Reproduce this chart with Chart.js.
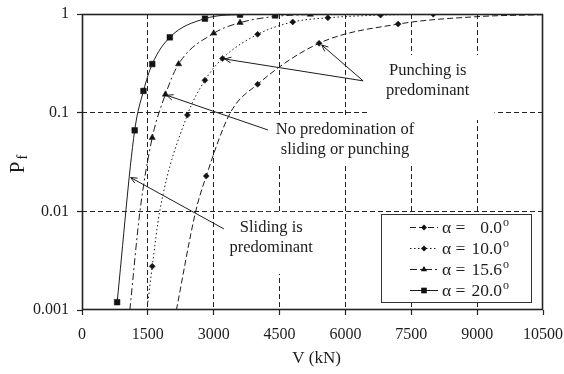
<!DOCTYPE html>
<html>
<head>
<meta charset="utf-8">
<script src="https://cdn.jsdelivr.net/npm/chart.js@4/dist/chart.umd.min.js"></script>
<style>
html,body{margin:0;padding:0;background:#fff;}
#wrap{width:564px;height:374px;position:relative;}
</style>
</head>
<body>
<div id="wrap"><canvas id="c" width="564" height="374"></canvas></div>
<script>
// ---------- data ----------
const xTicks = [0, 1500, 3000, 4500, 6000, 7500, 9000, 10500];
const yTicks = [0.001, 0.01, 0.1, 1];
const yTickLabels = ['0.001', '0.01', '0.1', '1'];

const alphaLabels = ['0.0', '10.0', '15.6', '20.0'];

// marker points (V in kN, Pf)
const v00 = [2830, 4000, 5400, 7200];
const p00 = [0.0228, 0.194, 0.505, 0.79];
const v100 = [1600, 2400, 2800, 3200, 4000, 4800, 5600, 6800, 8000];
const p100 = [0.00277, 0.0947, 0.213, 0.355, 0.622, 0.83, 0.915, 0.975, 0.995];
const v156 = [1600, 1900, 2200, 3000, 3600, 4400, 5200];
const p156 = [0.0558, 0.153, 0.311, 0.637, 0.817, 0.945, 0.99];
const v200 = [800, 1200, 1400, 1600, 2000, 2800, 3600, 4400];
const p200 = [0.0012, 0.0662, 0.166, 0.311, 0.58, 0.897, 0.985, 0.995];

// further points read along each curve where no marker is drawn
const v00Curve = [2150, 2590, 3380, 9000, 10500];
const p00Curve = [0.001, 0.01, 0.1, 0.94, 0.985];
const v100Curve = [1480, 1770];
const p100Curve = [0.001, 0.01];
const v156Curve = [1090, 1320];
const p156Curve = [0.001, 0.01];
const v200Curve = [];
const p200Curve = [];

// ---------- styles ----------
const FONT = "'Liberation Serif','Times New Roman',serif";
const INK = '#1c1c1c';
const seriesStyles = [
  {dash: [6, 3], point: 'rectRot', r: 3},
  {dash: [1.5, 2.5], point: 'rectRot', r: 3},
  {dash: [7, 3, 2, 3], point: 'triangle', r: 3.6},
  {dash: [], point: 'rect', r: 4}
];

function pts(v, p) { return v.map((x, i) => ({x: x, y: p[i]})); }
function curvePts(v, p, cv, cp) {
  return pts(v.concat(cv), p.concat(cp)).sort((a, b) => a.x - b.x);
}
const series = [
  {marks: pts(v00, p00), curve: curvePts(v00, p00, v00Curve, p00Curve)},
  {marks: pts(v100, p100), curve: curvePts(v100, p100, v100Curve, p100Curve)},
  {marks: pts(v156, p156), curve: curvePts(v156, p156, v156Curve, p156Curve)},
  {marks: pts(v200, p200), curve: curvePts(v200, p200, v200Curve, p200Curve)}
];

const datasets = [];
series.forEach((s, i) => {
  const st = seriesStyles[i];
  datasets.push({
    label: 'curve ' + alphaLabels[i],
    data: s.curve,
    showLine: true,
    borderColor: INK,
    borderWidth: 1,
    borderDash: st.dash,
    pointRadius: 0,
    cubicInterpolationMode: 'monotone',
    fill: false
  });
  datasets.push({
    label: 'α = ' + alphaLabels[i] + '°',
    data: s.marks,
    showLine: false,
    pointStyle: st.point,
    pointRadius: st.r,
    pointBackgroundColor: '#111',
    pointBorderColor: '#111',
    pointBorderWidth: 0.5
  });
});

// ---------- annotations (positions in data units) ----------
const notes = [
  {lines: ['Punching is', 'predominant'], at: [7875, 0.2646], pad: [18, 8, 25, 21]},
  {lines: ['No predomination of', 'sliding or punching'], at: [5990, 0.0668], pad: [8, 5, 8, 6]},
  {lines: ['Sliding is', 'predominant'], at: [4310, 0.00679], pad: [8, 8, 8, 18]}
];
const arrows = [
  {from: [6403, 0.21], to: [3250, 0.35]},
  {from: [6403, 0.21], to: [5460, 0.485]},
  {from: [4236, 0.0668], to: [1930, 0.15]},
  {from: [3232, 0.00664], to: [1108, 0.022]}
];

function drawMarker(ctx, style, x, y, r) {
  ctx.beginPath();
  if (style === 'rect') {
    const s = Math.SQRT1_2 * r;
    ctx.rect(x - s, y - s, 2 * s, 2 * s);
  } else if (style === 'rectRot') {
    ctx.moveTo(x, y - r); ctx.lineTo(x + r, y); ctx.lineTo(x, y + r); ctx.lineTo(x - r, y);
    ctx.closePath();
  } else if (style === 'triangle') {
    for (let k = 0; k < 3; k++) {
      const a = k * 2 * Math.PI / 3;
      const px = x + Math.sin(a) * r, py = y - Math.cos(a) * r;
      if (k === 0) ctx.moveTo(px, py); else ctx.lineTo(px, py);
    }
    ctx.closePath();
  }
  ctx.fillStyle = '#111';
  ctx.fill();
}

const decorPlugin = {
  id: 'decor',
  beforeDatasetsDraw(chart) {
    const ctx = chart.ctx, xs = chart.scales.x, ys = chart.scales.y;
    ctx.save();
    ctx.font = '16.5px ' + FONT;
    notes.forEach(n => {
      const cx = xs.getPixelForValue(n.at[0]);
      const cy = ys.getPixelForValue(n.at[1]);
      const w = Math.max(...n.lines.map(t => ctx.measureText(t).width));
      const h = (n.lines.length - 1) * 20;
      ctx.fillStyle = '#fff';
      ctx.fillRect(cx - w / 2 - n.pad[0], cy - 8 - n.pad[1],
                   w + n.pad[0] + n.pad[2], h + 16 + n.pad[1] + n.pad[3]);
    });
    ctx.restore();
  },
  afterDatasetsDraw(chart) {
    const ctx = chart.ctx, xs = chart.scales.x, ys = chart.scales.y;
    const a = chart.chartArea;
    ctx.save();
    // frame
    ctx.strokeStyle = '#222';
    ctx.lineWidth = 1.6;
    ctx.setLineDash([]);
    ctx.strokeRect(Math.round(a.left) + 0.5, Math.round(a.top) + 0.5,
                   Math.round(a.right - a.left) - 1, Math.round(a.bottom - a.top) - 1);
    // note texts
    ctx.fillStyle = INK;
    ctx.font = '16.5px ' + FONT;
    ctx.textAlign = 'center';
    ctx.textBaseline = 'middle';
    notes.forEach(n => {
      const cx = xs.getPixelForValue(n.at[0]);
      const cy = ys.getPixelForValue(n.at[1]);
      n.lines.forEach((t, k) => ctx.fillText(t, cx, cy + k * 20));
    });
    // arrows
    ctx.strokeStyle = INK;
    ctx.lineWidth = 1;
    arrows.forEach(ar => {
      const x1 = xs.getPixelForValue(ar.from[0]), y1 = ys.getPixelForValue(ar.from[1]);
      const x2 = xs.getPixelForValue(ar.to[0]), y2 = ys.getPixelForValue(ar.to[1]);
      const ang = Math.atan2(y2 - y1, x2 - x1);
      ctx.beginPath();
      ctx.moveTo(x1, y1); ctx.lineTo(x2, y2);
      const L = 7, sp = 0.42;
      ctx.moveTo(x2 - L * Math.cos(ang - sp), y2 - L * Math.sin(ang - sp));
      ctx.lineTo(x2, y2);
      ctx.lineTo(x2 - L * Math.cos(ang + sp), y2 - L * Math.sin(ang + sp));
      ctx.stroke();
    });
    // legend box
    const L0 = a.right - 162, T0 = a.bottom - 96, W = 150, H = 88;
    ctx.fillStyle = '#fff';
    ctx.fillRect(L0, T0, W, H);
    ctx.strokeStyle = '#333';
    ctx.lineWidth = 1;
    ctx.strokeRect(L0 + 0.5, T0 + 0.5, W, H);
    alphaLabels.forEach((lab, i) => {
      const st = seriesStyles[i];
      const y = T0 + 13 + i * 21;
      ctx.strokeStyle = INK;
      ctx.lineWidth = 1;
      ctx.setLineDash(st.dash);
      ctx.beginPath();
      ctx.moveTo(L0 + 29, y + 0.5); ctx.lineTo(L0 + 57, y + 0.5);
      ctx.stroke();
      ctx.setLineDash([]);
      drawMarker(ctx, st.point, L0 + 43, y + 0.5, st.r);
      ctx.fillStyle = INK;
      ctx.textBaseline = 'middle';
      ctx.font = '17.5px ' + FONT;
      ctx.textAlign = 'left';
      ctx.fillText('α =', L0 + 61, y + 1);
      ctx.textAlign = 'right';
      ctx.fillText(lab, L0 + 121, y + 1);
      ctx.textAlign = 'left';
      ctx.font = '12px ' + FONT;
      ctx.fillText('o', L0 + 122, y - 4);
    });
    ctx.restore();
  },
  afterDraw(chart) {
    const ctx = chart.ctx, a = chart.chartArea;
    ctx.save();
    ctx.fillStyle = INK;
    // x title
    ctx.font = '17px ' + FONT;
    ctx.textAlign = 'center';
    ctx.textBaseline = 'middle';
    ctx.fillText('V (kN)', (a.left + a.right) / 2 + 4, 359);
    // y title P with subscript f
    ctx.translate(23.5, (a.top + a.bottom) / 2 + 2);
    ctx.rotate(-Math.PI / 2);
    ctx.textAlign = 'left';
    ctx.textBaseline = 'alphabetic';
    ctx.font = '21px ' + FONT;
    const wP = ctx.measureText('P').width;
    ctx.font = '14px ' + FONT;
    const wf = ctx.measureText('f').width;
    const start = -(wP + wf + 2) / 2;
    ctx.font = '21px ' + FONT;
    ctx.fillText('P', start, 0);
    ctx.font = '14px ' + FONT;
    ctx.fillText('f', start + wP + 2, 3);
    ctx.restore();
  }
};

const edgeX = v => v === xTicks[0] || v === xTicks[xTicks.length - 1];
const edgeY = v => Math.abs(v - yTicks[0]) < 1e-9 || Math.abs(v - yTicks[yTicks.length - 1]) < 1e-9;

new Chart(document.getElementById('c'), {
  type: 'scatter',
  data: {datasets: datasets},
  options: {
    responsive: false,
    animation: false,
    layout: {padding: {left: 0, right: 21, top: 14, bottom: 0}},
    plugins: {legend: {display: false}, tooltip: {enabled: false}},
    scales: {
      x: {
        type: 'linear',
        min: xTicks[0],
        max: xTicks[xTicks.length - 1],
        afterBuildTicks: s => { s.ticks = xTicks.map(v => ({value: v})); },
        afterFit: s => { s.height = 64; s.paddingLeft = 0; s.paddingRight = 0; },
        ticks: {
          callback: v => String(v),
          color: INK,
          font: {family: FONT, size: 16},
          padding: 10,
          maxRotation: 0,
          autoSkip: false
        },
        grid: {
          color: c => (c.tick && edgeX(c.tick.value)) ? 'rgba(0,0,0,0)' : '#222',
          lineWidth: 1,
          tickColor: '#222',
          tickLength: 5,
          tickWidth: 1.2
        },
        border: {display: false, dash: [5, 3]}
      },
      y: {
        type: 'logarithmic',
        min: yTicks[0],
        max: yTicks[yTicks.length - 1],
        afterBuildTicks: s => { s.ticks = yTicks.map(v => ({value: v})); },
        afterFit: s => { s.width = 82; s.paddingTop = 0; s.paddingBottom = 0; },
        ticks: {
          callback: (v, i) => yTickLabels[yTicks.findIndex(t => Math.abs(t - v) < 1e-9)],
          color: INK,
          font: {family: FONT, size: 16},
          padding: 8,
          autoSkip: false
        },
        grid: {
          color: c => (c.tick && edgeY(c.tick.value)) ? 'rgba(0,0,0,0)' : '#222',
          lineWidth: 1,
          tickColor: '#222',
          tickLength: 5,
          tickWidth: 1.2
        },
        border: {display: false, dash: [5, 3]}
      }
    }
  },
  plugins: [decorPlugin]
});
</script>
</body>
</html>
